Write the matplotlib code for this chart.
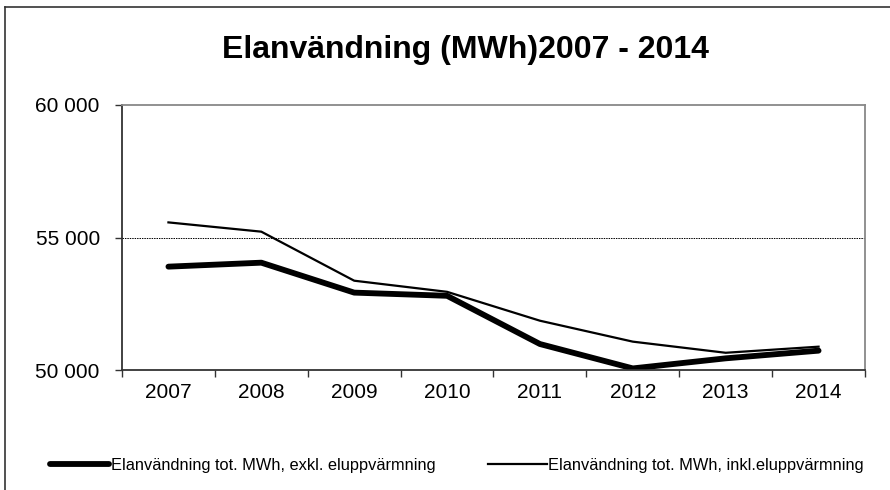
import matplotlib
matplotlib.use("Agg")
import matplotlib.pyplot as plt
from matplotlib.lines import Line2D
from matplotlib.ticker import FuncFormatter

plt.rcParams['font.family'] = ['Liberation Sans', 'DejaVu Sans']

years = ['2007', '2008', '2009', '2010', '2011', '2012', '2013', '2014']
exkl = [53900, 54050, 52920, 52800, 50980, 50060, 50440, 50730]
inkl = [55570, 55220, 53370, 52950, 51860, 51070, 50650, 50880]
label_exkl = 'Elanvändning tot. MWh, exkl. eluppvärmning'
label_inkl = 'Elanvändning tot. MWh, inkl.eluppvärmning'
title = 'Elanvändning (MWh)2007 - 2014'

fig = plt.figure(figsize=(8.9, 4.9), dpi=100)
ax = fig.add_axes([122/890, 1 - 370/490, (865 - 122)/890, (370 - 105)/490])

x = list(range(len(years)))
l1, = ax.plot(x, exkl, color='black', lw=4.2, solid_capstyle='round')
l2, = ax.plot(x, inkl, color='black', lw=1.6)

ax.set_xlim(-0.5, len(years) - 0.5)
ax.set_ylim(50000, 60000)
ax.set_yticks([50000, 55000, 60000])
ax.yaxis.set_major_formatter(FuncFormatter(lambda v, p: f'{int(v):,}'.replace(',', ' ')))
ax.axhline(55000, color='black', lw=0.7, ls=(0, (1.5, 1)))

# category boundaries as ticks, labels centered
ax.set_xticks([i - 0.5 for i in range(len(years) + 1)])
ax.set_xticklabels([])
ax.set_xticks(x, minor=True)
ax.set_xticklabels(years, minor=True)
ax.tick_params(axis='x', which='major', length=5, width=1, color='#333333', direction='out')
ax.tick_params(axis='x', which='minor', length=0, pad=9, labelsize=15)
ax.tick_params(axis='y', length=5, width=1, color='#333333', pad=11, labelsize=15)

ax.spines['left'].set_color('#333333')
ax.spines['bottom'].set_color('#333333')
ax.spines['top'].set_color('#888888')
ax.spines['right'].set_color('#888888')
for s in ax.spines.values():
    s.set_linewidth(1.3)

fig.text(465/890, 1 - 50/490, title, ha='center', va='center', fontsize=23, fontweight='bold')

fig.legend([l1, l2], [label_exkl, label_inkl], loc='center', bbox_to_anchor=(457/890, 1 - 465/490),
           ncol=2, frameon=False, fontsize=11.8, handlelength=3.6, handletextpad=0.1, columnspacing=3.2)

# outer chart border (left and top only visible)
fig.add_artist(Line2D([5/890, 5/890], [0, 1 - 7/490], color='#333333', lw=1.2))
fig.add_artist(Line2D([5/890, 1], [1 - 7/490, 1 - 7/490], color='#333333', lw=1.2))

fig.savefig('out.png', dpi=100)
